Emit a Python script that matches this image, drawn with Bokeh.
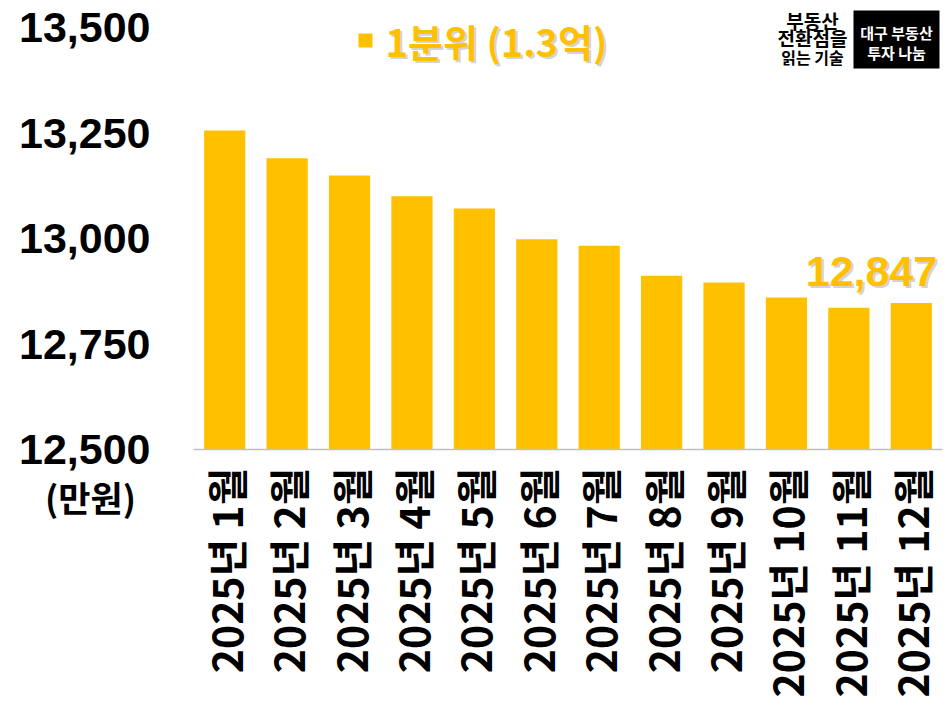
from bokeh.plotting import figure
from bokeh.models import (ColumnDataSource, Range1d, FixedTicker, LinearAxis,
                          NumeralTickFormatter, Label, LabelSet, BoxAnnotation)
from bokeh.core.properties import value
from bokeh.embed import file_html
from bokeh.resources import INLINE
import math

# ---- data ----
months = ["2025년 1월", "2025년 2월", "2025년 3월", "2025년 4월", "2025년 5월", "2025년 6월",
          "2025년 7월", "2025년 8월", "2025년 9월", "2025년 10월", "2025년 11월", "2025년 12월"]
values = [13256, 13190, 13149, 13100, 13071, 12998, 12983, 12912, 12896, 12860, 12836, 12847]
y_ticks = [12500, 12750, 13000, 13250, 13500]
series_name = "1분위 (1.3억)"
unit_label = "(만원)"

YELLOW = "#FFC000"
FONT = "Noto Sans CJK KR"
NUM_FONT = "Liberation Sans"

# ---- layout (pixels) ----
W, H = 944, 704
PL, PR, PT, PB = 193, 942, 27, 449          # plot area inside the canvas
n = len(months)
cw = (PR - PL) / n
ppu = (PB - PT) / (y_ticks[-1] - y_ticks[0])
x_start = -0.5 - PL / cw
x_end = n - 0.5 + (W - PR) / cw
y_end = y_ticks[-1] + PT / ppu
y_start = y_ticks[0] - (H - PB) / ppu

idx = list(range(n))
src = ColumnDataSource(dict(x=idx, month=months, value=values))
last_src = ColumnDataSource(dict(x=[idx[-1]], value=[values[-1]], label=[f"{values[-1]:,}"]))

p = figure(width=W, height=H, x_range=Range1d(x_start, x_end), y_range=Range1d(y_start, y_end),
           x_axis_type=None, y_axis_type=None,
           output_backend="svg", toolbar_location=None,
           min_border_left=0, min_border_right=0, min_border_top=0, min_border_bottom=0)
p.outline_line_color = None
p.background_fill_color = "white"

bars = p.vbar(x="x", top="value", bottom=y_ticks[0], width=0.66, source=src,
              fill_color=YELLOW, line_color=None)

# data label with shadow
p.add_layout(LabelSet(x="x", y="value", text="label", source=last_src,
                      text_font=value(NUM_FONT), text_font_style="bold", text_font_size="43px",
                      text_color="#8c8c8c", text_alpha=0.4, text_align="right",
                      text_baseline="alphabetic", x_offset=28, y_offset=15))
p.add_layout(LabelSet(x="x", y="value", text="label", source=last_src,
                      text_font=value(NUM_FONT), text_font_style="bold", text_font_size="43px",
                      text_color=YELLOW, text_align="right",
                      text_baseline="alphabetic", x_offset=26, y_offset=17))

# y axis
yaxis = LinearAxis(fixed_location=-0.5, bounds=(y_ticks[0], y_ticks[-1]))
yaxis.ticker = FixedTicker(ticks=y_ticks)
yaxis.formatter = NumeralTickFormatter(format="0,0")
yaxis.axis_line_color = None
yaxis.major_tick_line_color = None
yaxis.minor_tick_line_color = None
yaxis.major_tick_out = 0
yaxis.major_label_standoff = 43
yaxis.major_label_text_font = NUM_FONT
yaxis.major_label_text_font_style = "bold"
yaxis.major_label_text_font_size = "43px"
yaxis.major_label_text_color = "black"
p.add_layout(yaxis, "left")

# x axis
xaxis = LinearAxis(fixed_location=y_ticks[0], bounds=(-0.5, n - 0.5))
xaxis.ticker = FixedTicker(ticks=idx)
xaxis.major_label_overrides = {i: m for i, m in zip(idx, months)}
xaxis.axis_line_color = "#BFBFBF"
xaxis.axis_line_width = 1.5
xaxis.major_tick_line_color = None
xaxis.minor_tick_line_color = None
xaxis.major_tick_out = 0
xaxis.major_label_standoff = 18
xaxis.major_label_orientation = math.pi / 2
xaxis.major_label_text_font = FONT
xaxis.major_label_text_font_style = "bold"
xaxis.major_label_text_font_size = "41px"
xaxis.major_label_text_color = "black"
p.add_layout(xaxis, "below")

# unit label under the bottom y tick
p.add_layout(Label(x=90, y=H - 496, x_units="screen", y_units="screen", text=unit_label,
                   text_font=FONT, text_font_style="bold", text_font_size="35px",
                   text_color="black", text_align="center", text_baseline="middle"))

# legend: square key, shadow text, text
p.add_layout(BoxAnnotation(left=358, right=372, top=H - 33, bottom=H - 47,
                           left_units="screen", right_units="screen",
                           top_units="screen", bottom_units="screen",
                           fill_color=YELLOW, fill_alpha=1, line_color=None))
p.add_layout(Label(x=387, y=H - 42, x_units="screen", y_units="screen", text=series_name,
                   text_font=FONT, text_font_style="bold", text_font_size="38px",
                   text_color="#8c8c8c", text_alpha=0.4, text_baseline="middle"))
p.add_layout(Label(x=385, y=H - 40, x_units="screen", y_units="screen", text=series_name,
                   text_font=FONT, text_font_style="bold", text_font_size="38px",
                   text_color=YELLOW, text_baseline="middle"))

# logo
for txt, yy, fs in [("부동산", 20, "19px"), ("전환점을", 37, "19px"), ("읽는 기술", 56, "16px")]:
    p.add_layout(Label(x=812, y=H - yy, x_units="screen", y_units="screen", text=txt,
                       text_font=FONT, text_font_style="bold", text_font_size=fs,
                       text_color="black", text_align="center", text_baseline="middle"))
p.add_layout(BoxAnnotation(left=853, right=939, top=H - 10, bottom=H - 68,
                           left_units="screen", right_units="screen",
                           top_units="screen", bottom_units="screen",
                           fill_color="black", fill_alpha=1, line_color=None))
for txt, yy in [("대구 부동산", 32), ("투자 나눔", 52)]:
    p.add_layout(Label(x=896, y=H - yy, x_units="screen", y_units="screen", text=txt,
                       text_font=FONT, text_font_style="bold", text_font_size="15px",
                       text_color="white", text_align="center", text_baseline="middle"))

open("out.html", "w").write(file_html(p, INLINE))
